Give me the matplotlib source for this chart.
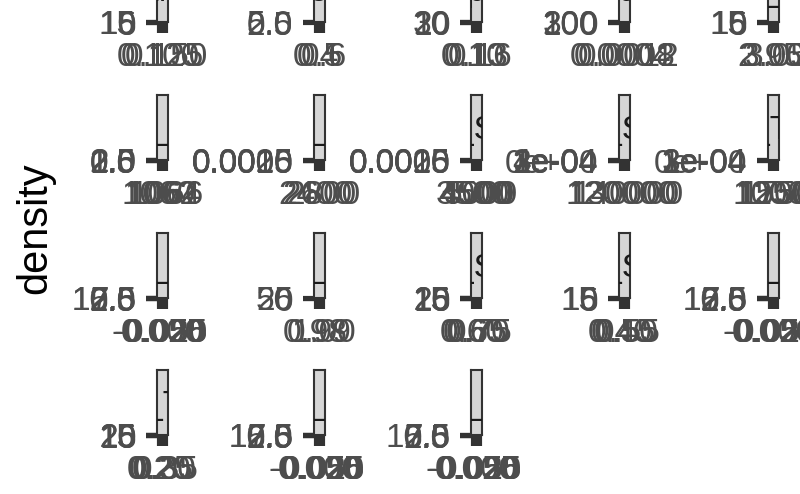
import matplotlib.pyplot as plt

plt.rcParams['font.family'] = ['Liberation Sans', 'DejaVu Sans']

# facet labels (one per panel, row by row)
facet_names = [
    "sum", "cos", "apa", "max", "dna_age",
    "pop_den", "head_page", "pe_Sea", "ne_Sub", "no_Tagi",
    "nod_deg", "hue_bed", "da_Sun", "he_Sob", "gap_dep",
    "ne_Tap", "band_pond", "hub_dog",
]

# x axis breaks of every panel
x_labels = [
    ["0.100", "0.125", "0.150"],
    ["0.4", "0.5", "0.6"],
    ["0.10", "0.13", "0.16"],
    ["0.0004", "0.0008", "0.0012"],
    ["2.95", "3.00", "3.05"],
    ["1060", "1062", "1064", "1066"],
    ["2400", "2600", "2800"],
    ["3500", "4000", "4500", "5000"],
    ["120000", "130000", "140000"],
    ["1000", "1250", "1500", "1750"],
    ["-0.050", "-0.025", "0.000", "0.025", "0.050"],
    ["0.98", "0.99", "1.00"],
    ["0.60", "0.65", "0.70", "0.75"],
    ["0.40", "0.45", "0.50", "0.55"],
    ["-0.050", "-0.025", "0.000", "0.025", "0.050"],
    ["0.20", "0.25", "0.30", "0.35"],
    ["-0.050", "-0.025", "0.000", "0.025", "0.050"],
    ["-0.050", "-0.025", "0.000", "0.025", "0.050"],
]

# y axis (density) breaks of every panel
y_labels = [
    ["0", "5", "10", "15"],
    ["0.0", "2.5", "5.0"],
    ["0", "10", "20", "30"],
    ["0", "100", "200", "300"],
    ["0", "5", "10", "15"],
    ["0.0", "0.5", "1.0", "1.5", "2.0", "2.5"],
    ["0.0000", "0.0005", "0.0010", "0.0015", "0.0020"],
    ["0.0000", "0.0005", "0.0010", "0.0015", "0.0020"],
    ["0e+00", "1e-04", "2e-04", "3e-04", "4e-04"],
    ["0e+00", "1e-04", "2e-04", "3e-04"],
    ["0.0", "2.5", "5.0", "7.5", "10.0", "12.5"],
    ["0", "25", "50"],
    ["0", "5", "10", "15", "20", "25"],
    ["0", "5", "10", "15"],
    ["0.0", "2.5", "5.0", "7.5", "10.0", "12.5"],
    ["0", "5", "10", "15", "20", "25"],
    ["0.0", "2.5", "5.0", "7.5", "10.0", "12.5"],
    ["0.0", "2.5", "5.0", "7.5", "10.0"],
]

W, H = 800, 494
col_left = [157, 314, 471, 619, 768]
row_base = [22, 160, 298, 435]
panel_w = 11
strip_h = 65

fig = plt.figure(figsize=(W / 100, H / 100), dpi=100)

for i, name in enumerate(facet_names):
    r, c = divmod(i, 5)
    x0 = col_left[c]
    yb = row_base[r]

    # the (squashed) panel
    ax = fig.add_axes([x0 / W, 1 - (yb + 1) / H, panel_w / W, 1 / H])
    xv = [float(s) for s in x_labels[i]]
    yv = [float(s) for s in y_labels[i]]
    span = max(xv) - min(xv)
    ax.set_xlim(min(xv) - 0.2 * span, max(xv) + 0.2 * span)
    ax.set_ylim(min(yv), max(yv))
    ax.set_xticks(xv, x_labels[i])
    ax.set_yticks(yv, y_labels[i])
    ax.tick_params(axis='x', length=7.3, width=3, color='#333333', pad=6.5,
                   labelsize=24, labelcolor='#4D4D4D')
    ax.tick_params(axis='y', length=7.9, width=3, color='#333333', pad=7.2,
                   labelsize=24, labelcolor='#4D4D4D')
    for sp in ax.spines.values():
        sp.set_visible(False)

    # strip with the clipped facet label
    st = fig.add_axes([x0 / W, 1 - yb / H, panel_w / W, strip_h / H])
    st.set_facecolor('#D6D6D6')
    st.set_xticks([])
    st.set_yticks([])
    for sp in st.spines.values():
        sp.set_color('#333333')
        sp.set_linewidth(1.5)
    st.text(0.5, 21 / strip_h, name, transform=st.transAxes, ha='center',
            va='baseline', fontsize=24, color='#1A1A1A', clip_on=True)

fig.text(35 / W, 1 - 228 / H, 'density', rotation=90, ha='center',
         va='center', fontsize=30, color='black')

fig.savefig('out.png', dpi=100)
